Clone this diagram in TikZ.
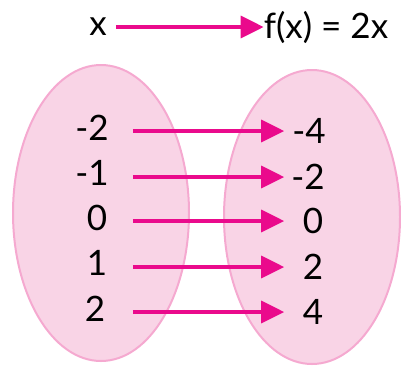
\documentclass[tikz,border=0pt]{standalone}
\usepackage{fontspec}
\setmainfont{Lato}
\usetikzlibrary{arrows.meta}
\definecolor{setfill}{HTML}{F9D4E6}
\definecolor{setline}{HTML}{F5A9D0}
\definecolor{maparrow}{HTML}{EA0A8C}
\begin{document}
\begin{tikzpicture}[x=1pt, y=-1pt,
    font=\fontsize{35}{38}\selectfont,
    val/.style={inner sep=0pt, text=black},
    map/.style={maparrow, line width=3.5pt, -{Triangle[length=23pt, width=22pt]}}]
  \useasboundingbox (0,0) rectangle (401,365);
  % the two sets
  \fill[setfill, draw=setline, line width=2pt] (101,213) ellipse [x radius=88, y radius=148];
  \fill[setfill, draw=setline, line width=2pt] (312,217) ellipse [x radius=88, y radius=147];
  % rule on top
  \node[val] (x) at (98,27) {x};
  \node[val] (fx) at (326,27) {f(x) = 2x};
  \draw[map, shorten <=9pt] (x.east) -- (fx.west);
  % domain
  \node[val] (l1) at (92,128) {-2};
  \node[val] (l2) at (92,173) {-1};
  \node[val] (l3) at (97,218) {0};
  \node[val] (l4) at (97,263) {1};
  \node[val] (l5) at (95,309) {2};
  % range
  \node[val] (r1) at (309,131) {-4};
  \node[val] (r2) at (308,177) {-2};
  \node[val] (r3) at (313,221) {0};
  \node[val] (r4) at (313,267) {2};
  \node[val] (r5) at (313,312) {4};
  \foreach \i in {1,...,5}
    \draw[map, shorten <=24pt, shorten >=8pt] (l1.east |- r\i.west) -- (r1.west |- r\i.west);
\end{tikzpicture}
\end{document}
